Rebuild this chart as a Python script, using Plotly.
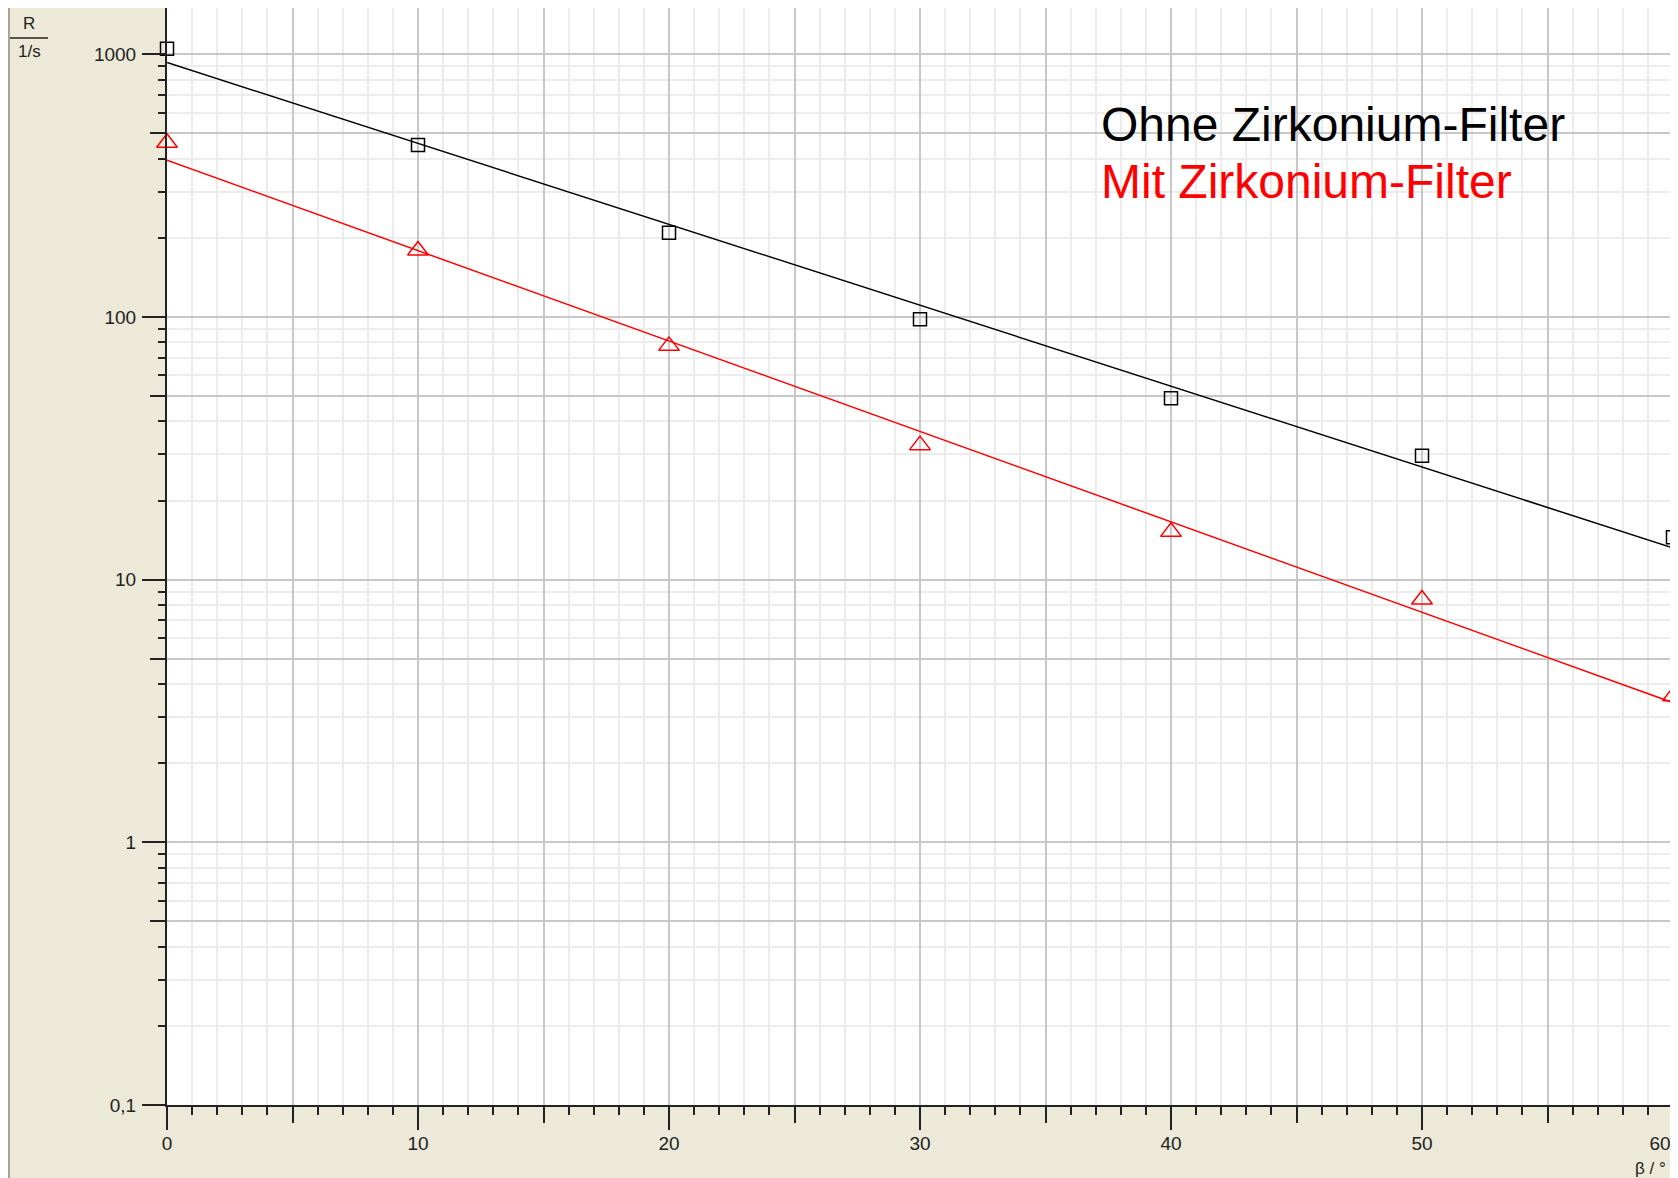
import plotly.graph_objects as go

# ---- data ----
angle = [0, 10, 20, 30, 40, 50, 60]
rate_without = [1050, 451, 209, 98, 49, 29.6, 14.5]
rate_with = [460, 179, 77.6, 32.5, 15.2, 8.4, 3.6]

fit_angle = [0, 60]
fit_without = [930, 13.2]
fit_with = [395, 3.4]

x_label_vals = [0, 10, 20, 30, 40, 50]
x_label_text = ["0", "10", "20", "30", "40", "50"]
x_end_vals = [60]
x_end_text = ["60"]
x_mid_vals = [5, 15, 25, 35, 45, 55]

y_label_vals = [0.1, 1, 10, 100, 1000]
y_label_text = ["0,1", "1", "10", "100", "1000"]
y_mid_vals = [0.5, 5, 50, 500]
y_minor_vals = [0.2, 0.3, 0.4, 0.6, 0.7, 0.8, 0.9,
                2, 3, 4, 6, 7, 8, 9,
                20, 30, 40, 60, 70, 80, 90,
                200, 300, 400, 600, 700, 800, 900]

Y_RANGE = [-1, 3.176]
X_RANGE = [0, 60]

BEIGE = "#ECE9D8"
MAJOR_GRID = "#c8c8c8"
MINOR_GRID = "#ececec"
AX = "#222222"
FONT = "Liberation Sans"

fig = go.Figure()

fig.add_trace(go.Scatter(
    x=angle, y=rate_without, mode="markers", showlegend=False, cliponaxis=False,
    marker=dict(symbol="square-open", size=13, color="#000000", line=dict(width=1.5, color="#000000")),
    xaxis="x", yaxis="y"))
fig.add_trace(go.Scatter(
    x=fit_angle, y=fit_without, mode="lines", showlegend=False,
    line=dict(color="#000000", width=1.5), xaxis="x2", yaxis="y2"))
fig.add_trace(go.Scatter(
    x=fit_angle, y=fit_with, mode="lines", showlegend=False,
    line=dict(color="#ff0000", width=1.5), xaxis="x2", yaxis="y2"))
fig.add_trace(go.Scatter(
    x=angle, y=rate_with, mode="markers", showlegend=False, cliponaxis=False,
    marker=dict(symbol="triangle-up-open", size=18, color="#ff0000", line=dict(width=1.5, color="#ff0000")),
    xaxis="x3", yaxis="y"))

# page body adds an 8px offset; figure sized so it fills the window
OFF = 8
W, H = 1678 - OFF, 1178 - OFF
ML, MR, MT, MB = 159, 5, 0, 73
pw = W - ML - MR
ph = H - MT - MB


def sx(p):
    # screen x pixel -> paper coordinate
    return (p - OFF - ML) / pw


def sy(p):
    # screen y pixel -> paper coordinate
    return 1 - (p - OFF - MT) / ph


label_font = dict(size=19, color=AX, family=FONT)

fig.update_layout(
    width=W, height=H,
    margin=dict(l=ML, r=MR, t=MT, b=MB, autoexpand=False),
    paper_bgcolor=BEIGE,
    plot_bgcolor="white",
    font=dict(family=FONT, color=AX, size=19),
    xaxis=dict(
        range=X_RANGE, tickmode="array", tickvals=x_mid_vals, showticklabels=False,
        ticks="outside", ticklen=16, tickwidth=1.5, tickcolor=AX,
        showgrid=True, gridcolor=MAJOR_GRID, gridwidth=1.5,
        showline=True, linecolor=AX, linewidth=2, zeroline=False,
        minor=dict(dtick=1, ticks="outside", ticklen=8, tickwidth=1.5, tickcolor=AX,
                   showgrid=True, gridcolor=MINOR_GRID, gridwidth=1.5),
    ),
    yaxis=dict(
        type="log", range=Y_RANGE, tickmode="array", tickvals=y_mid_vals, showticklabels=False,
        ticks="outside", ticklen=15, tickwidth=1.5, tickcolor=AX,
        showgrid=True, gridcolor=MAJOR_GRID, gridwidth=1.5,
        showline=True, linecolor=AX, linewidth=2, zeroline=False,
        minor=dict(tickmode="array", tickvals=y_minor_vals, ticks="outside", ticklen=7,
                   tickwidth=1.5, tickcolor=AX, showgrid=True, gridcolor=MINOR_GRID, gridwidth=1.5),
    ),
    xaxis2=dict(
        overlaying="x", side="bottom", range=X_RANGE, tickmode="array",
        tickvals=x_label_vals, ticktext=x_label_text,
        ticks="outside", ticklen=24, tickwidth=2, tickcolor=AX,
        showgrid=True, gridcolor=MAJOR_GRID, gridwidth=1.5, showline=False, zeroline=False,
        tickfont=label_font, ticklabeloverflow="allow", ticklabelstandoff=-3,
    ),
    xaxis3=dict(
        overlaying="x", side="bottom", range=X_RANGE, tickmode="array",
        tickvals=x_end_vals, ticktext=x_end_text,
        ticks="outside", ticklen=24, tickwidth=2, tickcolor=AX,
        showgrid=False, showline=False, zeroline=False,
        tickfont=label_font, ticklabeloverflow="allow", ticklabelstandoff=-3,
        ticklabelshift=-13,
    ),
    yaxis2=dict(
        overlaying="y", side="left", type="log", range=Y_RANGE, tickmode="array",
        tickvals=y_label_vals, ticktext=y_label_text,
        ticks="outside", ticklen=24, tickwidth=2, tickcolor=AX,
        showgrid=True, gridcolor=MAJOR_GRID, gridwidth=1.5, showline=False, zeroline=False,
        tickfont=label_font, ticklabeloverflow="allow", ticklabelstandoff=2,
    ),
    shapes=[
        # grey left border of the frame
        dict(type="line", xref="paper", yref="paper",
             x0=sx(9), x1=sx(9), y0=sy(1180), y1=sy(8),
             line=dict(color="#a8a596", width=2)),
        # fraction bar of the y axis unit
        dict(type="line", xref="paper", yref="paper",
             x0=sx(10), x1=sx(48), y0=sy(38), y1=sy(38),
             line=dict(color=AX, width=1.5)),
    ],
    annotations=[
        dict(text="R", xref="paper", yref="paper", x=sx(29), y=sy(24),
             showarrow=False, xanchor="center", yanchor="middle",
             font=dict(size=17, color=AX, family=FONT)),
        dict(text="1/s", xref="paper", yref="paper", x=sx(29), y=sy(52),
             showarrow=False, xanchor="center", yanchor="middle",
             font=dict(size=17, color=AX, family=FONT)),
        dict(text="β / °", xref="paper", yref="paper", x=sx(1668), y=sy(1168),
             showarrow=False, xanchor="right", yanchor="middle",
             font=dict(size=17, color=AX, family=FONT)),
        dict(text="Ohne Zirkonium-Filter", xref="paper", yref="paper",
             x=sx(1099), y=sy(124), showarrow=False, xanchor="left", yanchor="middle",
             font=dict(size=48, color="#000000", family=FONT)),
        dict(text="Mit Zirkonium-Filter", xref="paper", yref="paper",
             x=sx(1099), y=sy(182), showarrow=False, xanchor="left", yanchor="middle",
             font=dict(size=48, color="#ff0000", family=FONT)),
    ],
)

fig.write_html("out.html")
